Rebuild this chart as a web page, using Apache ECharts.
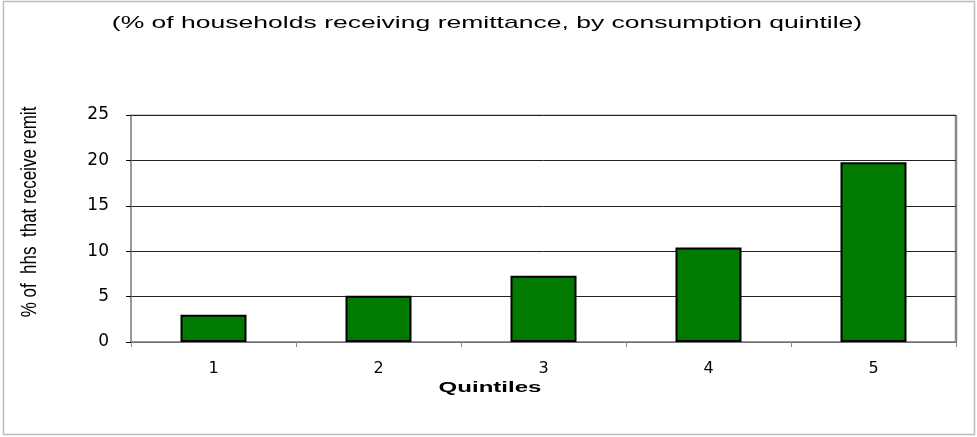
<!DOCTYPE html>
<html>
<head>
<meta charset="utf-8">
<script src="https://cdn.jsdelivr.net/npm/echarts@6/dist/echarts.min.js"></script>
<style>
  html, body { margin: 0; padding: 0; background: #fff; }
  #chart { width: 977px; height: 437px; }
</style>
</head>
<body>
<div id="chart"></div>
<script>
// Share of households receiving remittances, by consumption quintile
const quintiles = ['1', '2', '3', '4', '5'];
const shareReceiving = [3.0, 5.1, 7.3, 10.4, 19.8];
const yTicks = { min: 0, max: 25, interval: 5 };

const titleText = '(% of households receiving remittance, by consumption quintile)';
const xName = 'Quintiles';
const yName = '% of  hhs  that receive remit';

const chart = echarts.init(document.getElementById('chart'));
const font = 'Arial, "Liberation Sans", sans-serif';
const tickFont = '"DejaVu Sans", Verdana, sans-serif';

chart.setOption({
  backgroundColor: '#fff',
  animation: false,
  grid: {
    left: 131, right: 21, top: 115, bottom: 95,
    show: true, borderColor: '#999', borderWidth: 1, backgroundColor: '#fff'
  },
  xAxis: {
    type: 'category',
    data: quintiles,
    axisLine: { lineStyle: { color: '#888', width: 1.5 } },
    axisTick: { show: true, length: 5, lineStyle: { color: '#888' } },
    axisLabel: { fontFamily: tickFont, fontSize: 16, color: '#000', margin: 19 }
  },
  yAxis: {
    type: 'value',
    min: yTicks.min, max: yTicks.max, interval: yTicks.interval,
    axisLine: { show: true, lineStyle: { color: '#888', width: 1.5 } },
    axisTick: { show: true, length: 5, lineStyle: { color: '#000' } },
    axisLabel: { fontFamily: tickFont, fontSize: 17, color: '#000', margin: 22 },
    splitLine: { lineStyle: { color: '#222', width: 1 } }
  },
  series: [{
    type: 'bar',
    data: shareReceiving,
    barWidth: '40%',
    itemStyle: { color: '#007a00', borderColor: '#000', borderWidth: 2 }
  }],
  graphic: [
    { type: 'rect', silent: true, shape: { x: 3.5, y: 1.5, width: 971, height: 433 },
      style: { fill: 'none', stroke: '#bbb', lineWidth: 1.5 } },
    { type: 'line', silent: true, shape: { x1: 956, y1: 115, x2: 956, y2: 342 },
      style: { stroke: '#888', lineWidth: 2.5 } },
    // wide title text
    { type: 'text', x: 487, y: 23, scaleX: 1.56,
      style: { text: titleText, font: '17px ' + font, fill: '#000',
               textAlign: 'center', textVerticalAlign: 'middle' } },
    // x axis name
    { type: 'text', x: 490, y: 388, scaleX: 1.55,
      style: { text: xName, font: 'bold 15.5px ' + font, fill: '#000',
               textAlign: 'center', textVerticalAlign: 'middle' } },
    // y axis name, rotated
    { type: 'text', x: 30, y: 212, rotation: Math.PI / 2, scaleY: 1.3,
      style: { text: yName, font: '17px ' + font, fill: '#000',
               textAlign: 'center', textVerticalAlign: 'middle' } }
  ]
});
</script>
</body>
</html>
